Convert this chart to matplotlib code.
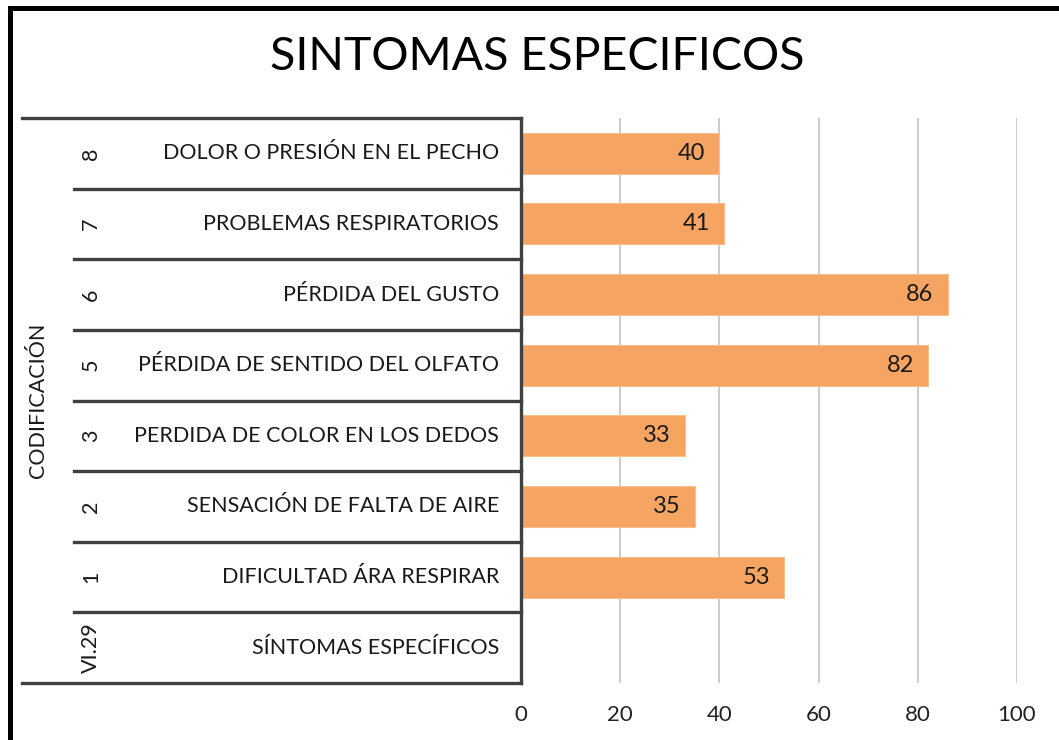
import matplotlib
matplotlib.use("Agg")
import matplotlib.pyplot as plt
from matplotlib.transforms import blended_transform_factory
from matplotlib.lines import Line2D

# ---- data ----
codes = ["8", "7", "6", "5", "3", "2", "1", "VI.29"]
labels = ["DOLOR O PRESIÓN EN EL PECHO", "PROBLEMAS RESPIRATORIOS", "PÉRDIDA DEL GUSTO",
          "PÉRDIDA DE SENTIDO DEL OLFATO", "PERDIDA DE COLOR EN LOS DEDOS",
          "SENSACIÓN DE FALTA DE AIRE", "DIFICULTAD ÁRA RESPIRAR", "SÍNTOMAS ESPECÍFICOS"]
values = [40, 41, 86, 82, 33, 35, 53, None]
group_label = "CODIFICACIÓN"
title = "SINTOMAS ESPECIFICOS"
xticks = [0, 20, 40, 60, 80, 100]

FONT = ["Lato", "DejaVu Sans"]
W, H = 1059, 740
fig = plt.figure(figsize=(W / 100, H / 100), dpi=100)
fig.patch.set_facecolor("white")

def fx(px):
    return px / W

def fy(py):
    return 1 - py / H

left_px, right_px, top_px, bot_px = 521, 1017, 118, 683
ax = fig.add_axes([fx(left_px), fy(bot_px), fx(right_px - left_px), (bot_px - top_px) / H])

n = len(codes)
ypos = list(range(n))
bar_vals = [v if v is not None else 0 for v in values]
ax.barh(ypos, bar_vals, height=0.58, color="#F6A462", edgecolor="#F9C08F",
        linewidth=0.8, zorder=3)
for y, v in zip(ypos, values):
    if v is not None:
        ax.annotate(str(v), xy=(v, y), xytext=(-14, 0), textcoords="offset pixels",
                    ha="right", va="center", fontsize=17, family=FONT, color="#1a1a1a", zorder=4)

ax.set_ylim(n - 0.5, -0.5)
ax.set_xlim(0, 100)
ax.set_xticks(xticks)
ax.set_xticklabels([str(t) for t in xticks], fontsize=16, family=FONT, color="#222222")
ax.tick_params(axis="x", length=0, pad=16)
ax.set_yticks([])
ax.grid(axis="x", color="#C8C8C8", linewidth=1.3, zorder=0)
for s in ["top", "right", "bottom"]:
    ax.spines[s].set_visible(False)
ax.spines["left"].set_color("#404040")
ax.spines["left"].set_linewidth(2.4)
ax.spines["left"].set_zorder(5)

# category axis structure
tr = blended_transform_factory(fig.transFigure, ax.transData)
line_kw = dict(color="#404040", linewidth=2.4, transform=tr, clip_on=False, solid_capstyle="projecting")
ax.plot([fx(22), fx(left_px)], [-0.5, -0.5], **line_kw)
ax.plot([fx(22), fx(left_px)], [n - 0.5, n - 0.5], **line_kw)
for k in range(1, n):
    ax.plot([fx(74), fx(left_px)], [k - 0.5, k - 0.5], **line_kw)

for y, c, lab in zip(ypos, codes, labels):
    ax.text(fx(499), y, lab, transform=tr, ha="right", va="center", fontsize=15.5,
            family=FONT, color="#1a1a1a")
    ax.text(fx(91), y, c, transform=tr, ha="center", va="center", rotation=90,
            fontsize=15.5, family=FONT, color="#1a1a1a")

ax.text(fx(38), (n - 1) / 2, group_label, transform=tr, ha="center", va="center",
        rotation=90, fontsize=15.5, family=FONT, color="#1a1a1a")

fig.text(fx(537), fy(57), title, ha="center", va="center", fontsize=33.5,
         family=FONT, color="#000000")

# outer frame
fig.add_artist(Line2D([fx(9.5), fx(9.5)], [0, fy(8)], color="black", linewidth=3.6,
                      transform=fig.transFigure, solid_capstyle="projecting"))
fig.add_artist(Line2D([fx(9.5), 1], [fy(8), fy(8)], color="black", linewidth=3.6,
                      transform=fig.transFigure, solid_capstyle="projecting"))

fig.savefig("out.png", dpi=100)
